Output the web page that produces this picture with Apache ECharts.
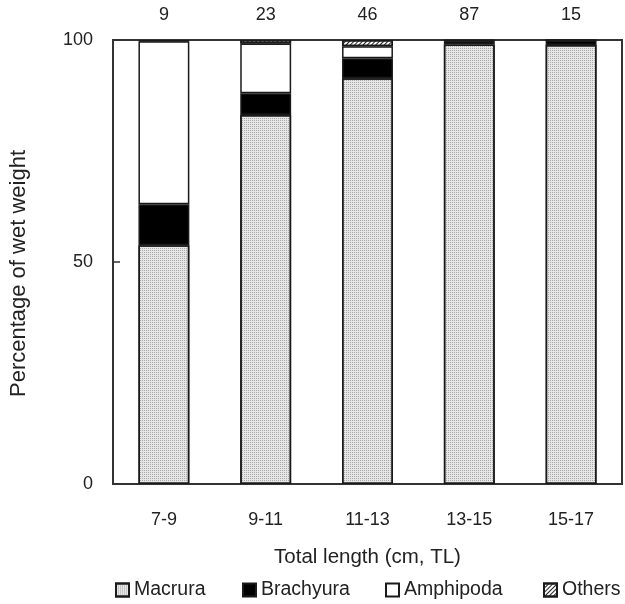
<!DOCTYPE html>
<html><head><meta charset="utf-8">
<script src="https://cdn.jsdelivr.net/npm/echarts@6/dist/echarts.min.js"></script>
<style>html,body{margin:0;padding:0;background:#fff}#c{width:625px;height:604px}</style>
</head><body><div id="c"></div>
<script>
const categories = ['7-9', '9-11', '11-13', '13-15', '15-17'];
const sampleSizes = ['9', '23', '46', '87', '15'];
const seriesNames = ['Macrura', 'Brachyura', 'Amphipoda', 'Others'];
const macrura   = [53.8, 83.1, 91.4, 99.0, 98.9];
const brachyura = [9.2, 4.9, 4.5, 0.7, 1.0];
const amphipoda = [36.7, 11.2, 2.7, 0.1, 0.0];
const others    = [0.3, 0.8, 1.4, 0.2, 0.1];
const yTicks = [0, 50, 100];

const font = 'Liberation Sans, Arial, sans-serif';
const chart = echarts.init(document.getElementById('c'));
const border = { borderColor: '#1a1a1a', borderWidth: 1.5 };
function mk(name, data, style) {
  return { name, type: 'bar', stack: 'a', data, barWidth: '50%',
    itemStyle: Object.assign({}, border, style) };
}
const legendLefts = [110, 237, 380, 538];
const legends = seriesNames.map((n, i) => ({
  left: legendLefts[i], top: 575, itemWidth: 13, itemHeight: 13, itemTextGap: 3,
  textStyle: { fontFamily: font, fontSize: 19.5, color: '#222' },
  data: [{ name: n, icon: 'rect' }]
}));
chart.setOption({
  animation: false,
  grid: { left: 113, right: 3, top: 40, bottom: 120, show: true, borderColor: '#333', borderWidth: 2, backgroundColor: 'transparent' },
  legend: legends,
  xAxis: [{
    type: 'category', data: categories, position: 'bottom',
    axisLine: { lineStyle: { color: '#333', width: 2 } },
    axisTick: { inside: true, length: 5, lineStyle: { color: '#333', width: 1 } },
    axisLabel: { fontFamily: font, fontSize: 18, color: '#222', margin: 27 },
    name: 'Total length (cm, TL)', nameLocation: 'middle', nameGap: 63,
    nameTextStyle: { fontFamily: font, fontSize: 20.5, color: '#222' }
  }, {
    type: 'category', data: sampleSizes, position: 'top',
    axisLine: { show: false }, axisTick: { show: false },
    axisLabel: { fontFamily: font, fontSize: 18, color: '#222', margin: 16 }
  }],
  yAxis: {
    type: 'value', min: yTicks[0], max: yTicks[2], interval: 50,
    axisLine: { show: true, lineStyle: { color: '#333', width: 2 } },
    axisTick: { show: true, inside: true, length: 7, lineStyle: { color: '#333', width: 1.5 } },
    splitLine: { show: false },
    axisLabel: { fontFamily: font, fontSize: 18, color: '#222', margin: 20 },
    name: 'Percentage of wet weight', nameLocation: 'middle', nameGap: 83,
    nameTextStyle: { fontFamily: font, fontSize: 22, color: '#222', padding: [0, 23, 0, 0] }
  },
  series: [
    mk('Macrura', macrura, { color: '#e6e6e6', decal: { symbol: 'rect', symbolSize: 1, dashArrayX: [1, 1], dashArrayY: [1, 1], color: 'rgba(120,120,120,0.55)' } }),
    mk('Brachyura', brachyura, { color: '#000' }),
    mk('Amphipoda', amphipoda, { color: '#fff' }),
    mk('Others', others, { color: '#fff', decal: { symbol: 'rect', symbolSize: 1, rotation: -Math.PI / 4, dashArrayX: [[1, 0]], dashArrayY: [1, 2], color: '#222' } })
  ]
});
</script></body></html>
